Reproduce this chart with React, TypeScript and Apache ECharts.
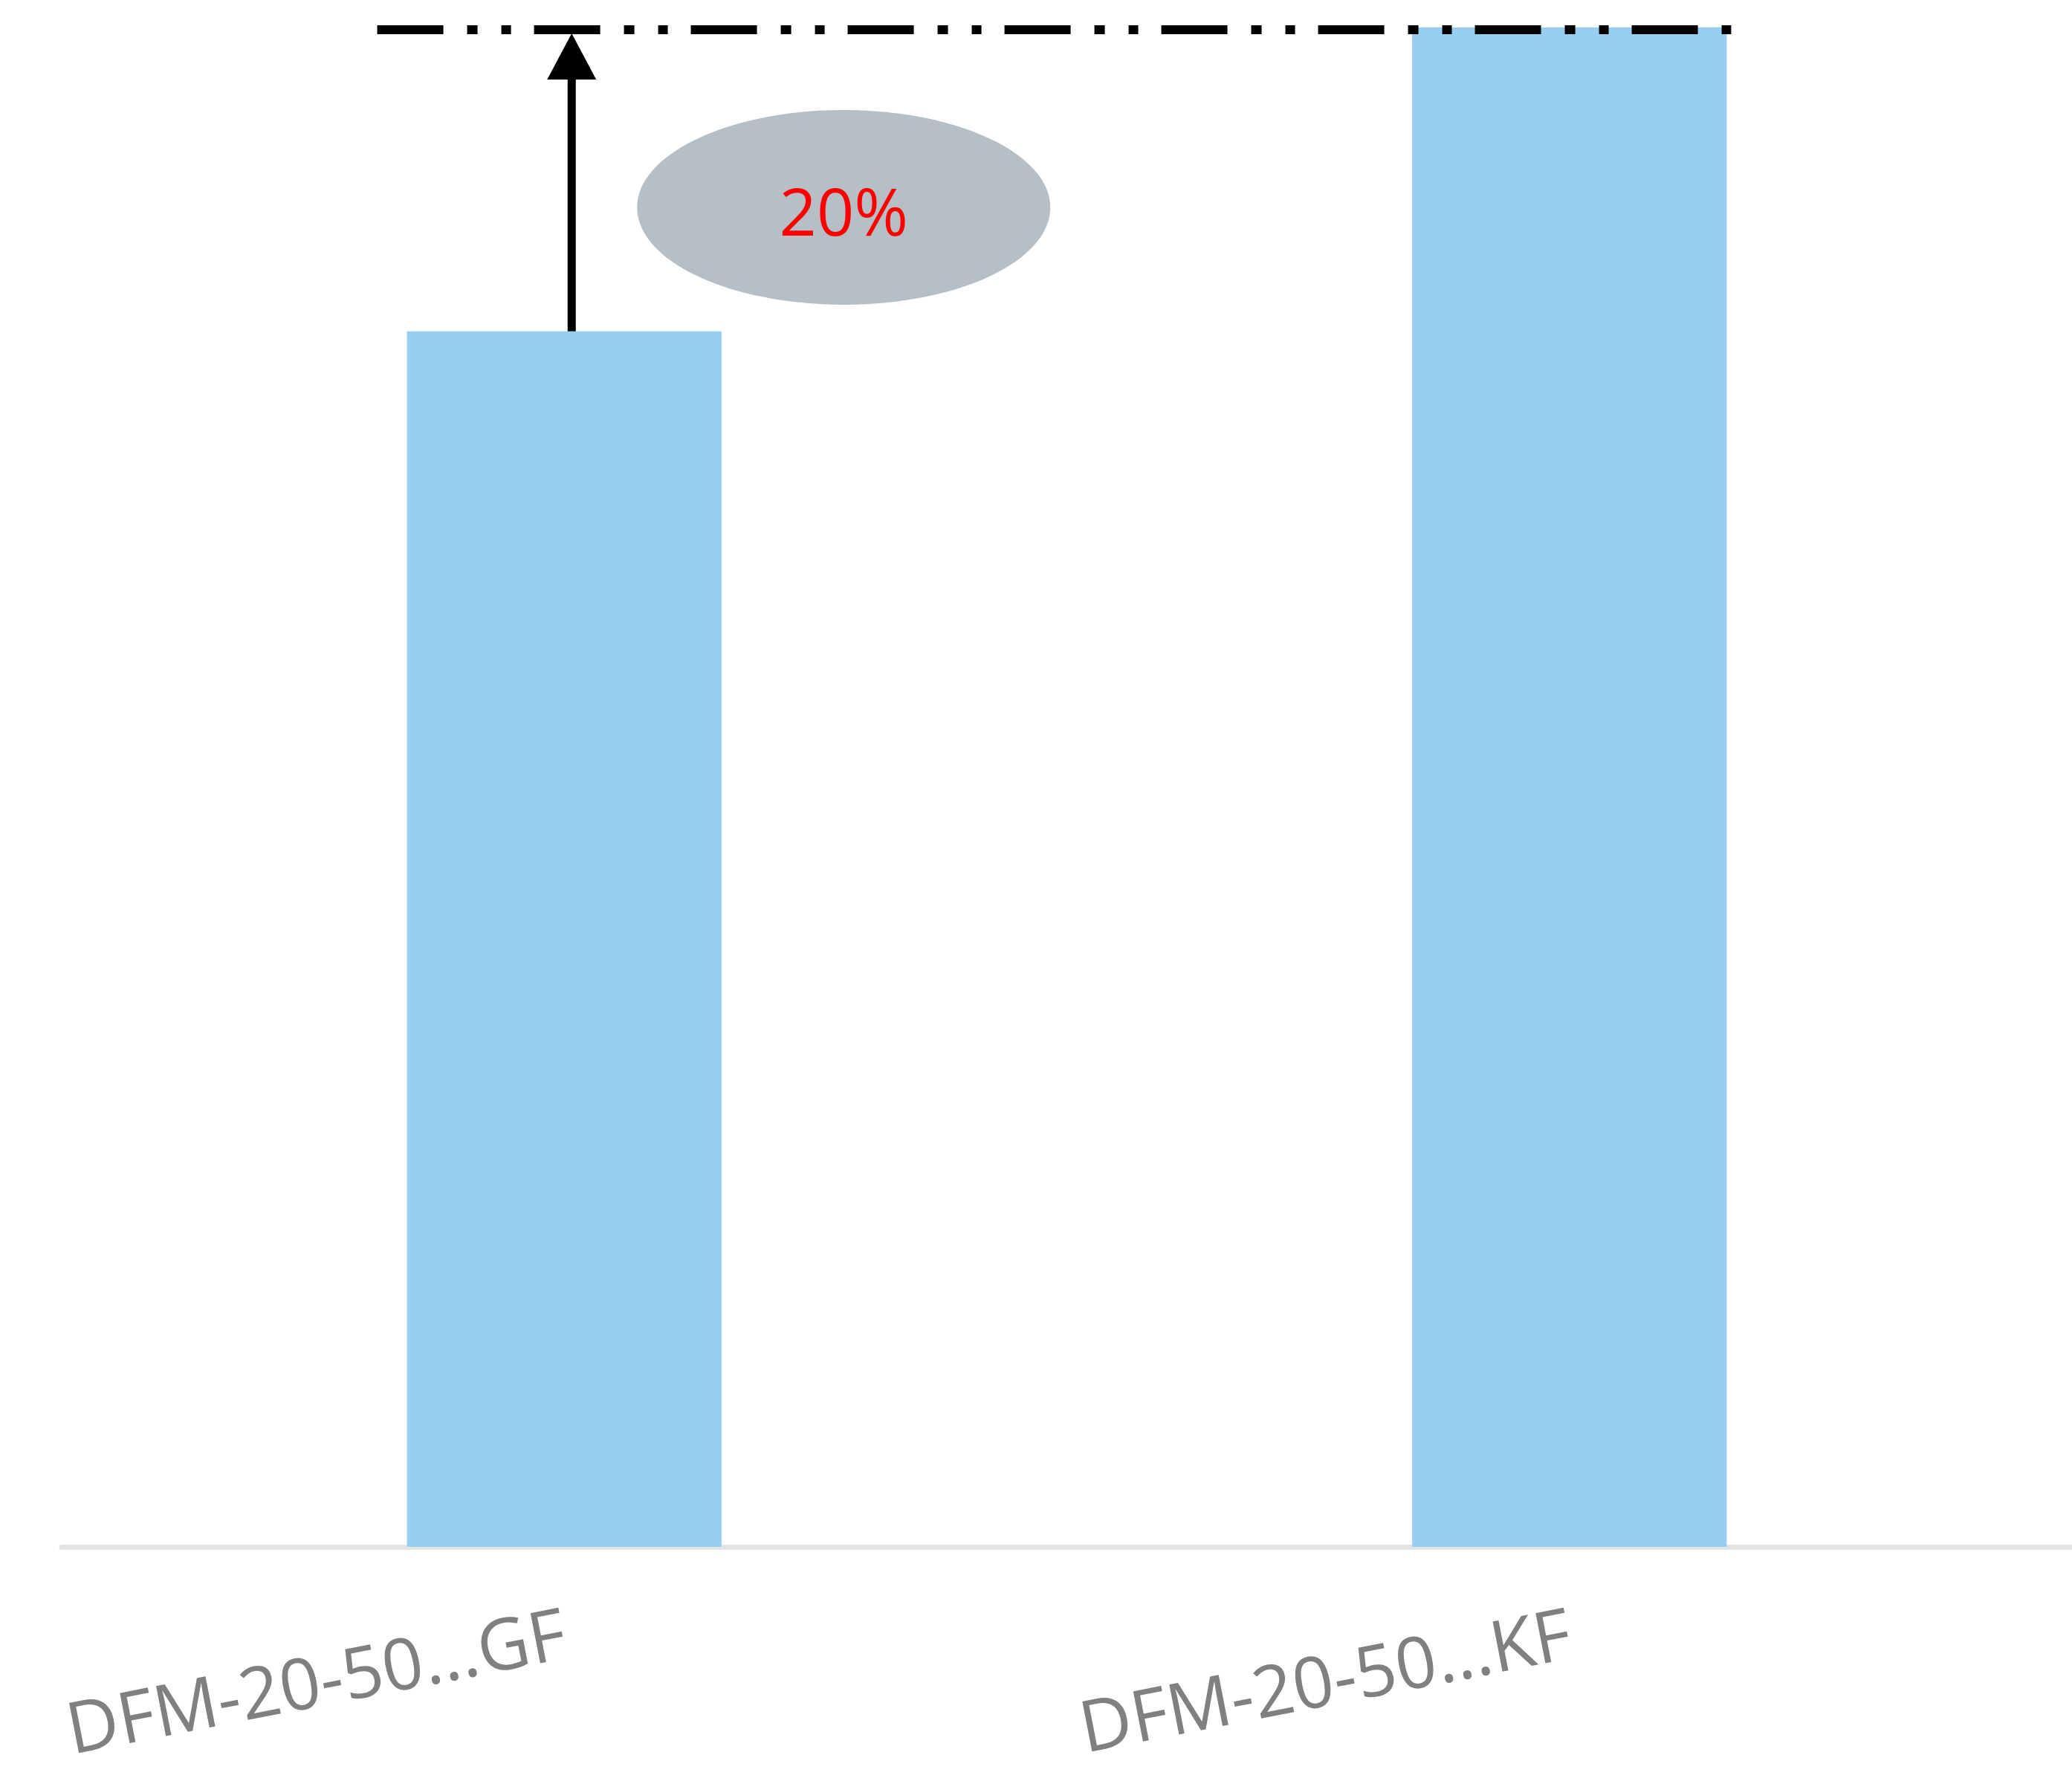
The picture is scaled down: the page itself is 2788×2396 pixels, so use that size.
import React, { useEffect, useRef } from "react";
import * as echarts from "echarts";

const categories = ["DFM-20-50...GF", "DFM-20-50...KF"];
const values = [80, 100];
const annotationText = "20%";

export default function App() {
  const ref = useRef<HTMLDivElement>(null);
  useEffect(() => {
    document.body.style.margin = "0";
    const chart = echarts.init(ref.current!, null, { renderer: "svg" });
    const barWidthRatio = 0.313;
    chart.setOption({
      animation: false,
      backgroundColor: "#ffffff",
      grid: { left: 83, top: 37, width: 2760, height: 2044 },
      xAxis: {
        type: "category",
        data: categories,
        offset: 4,
        axisLine: { show: true, lineStyle: { color: "#e4e4e4", width: 7 } },
        axisTick: { show: false },
        axisLabel: {
          interval: 0,
          rotate: 11,
          margin: 108,
          fontSize: 96,
          lineHeight: 80,
          color: "#808080",
          fontFamily: "Open Sans",
        },
      },
      yAxis: { type: "value", min: 0, max: 100, show: false, splitLine: { show: false } },
      series: [
        {
          type: "bar",
          data: values,
          barWidth: barWidthRatio * 100 + "%",
          itemStyle: { color: "#97cef2" },
        },
      ],
    });

    const p1 = chart.convertToPixel({ seriesIndex: 0 }, [0, values[0]]) as number[];
    const p2 = chart.convertToPixel({ seriesIndex: 0 }, [1, values[1]]) as number[];
    const bandW = p2[0] - p1[0];
    const half = (bandW * barWidthRatio) / 2;
    const ax = p1[0] + 10;
    const lineY = p2[1] + 3;
    const cx = p1[0] + 376;
    const cy = p2[1] + 242;

    chart.setOption({
      graphic: [
        {
          type: "line",
          z: 100,
          shape: { x1: p1[0] - half - 40, y1: lineY, x2: p2[0] + half + 6, y2: lineY },
          style: { stroke: "#000000", lineWidth: 12, lineDash: [89, 32, 14, 32, 13, 31], lineCap: "butt" },
        },
        {
          type: "line",
          z: 100,
          shape: { x1: ax, y1: p1[1], x2: ax, y2: p2[1] + 68 },
          style: { stroke: "#000000", lineWidth: 11 },
        },
        {
          type: "polygon",
          z: 100,
          shape: { points: [[ax - 33, p2[1] + 70], [ax + 33, p2[1] + 70], [ax, p2[1] + 8]] },
          style: { fill: "#000000" },
        },
        {
          type: "ellipse",
          z: 90,
          shape: { cx, cy, rx: 278, ry: 131 },
          style: { fill: "#b6bfc6" },
        },
        {
          type: "text",
          z: 101,
          x: cx,
          y: cy + 4,
          style: {
            text: annotationText,
            fill: "#ff0000",
            fontSize: 88,
            fontFamily: "Open Sans",
            align: "center",
            verticalAlign: "middle",
            textAlign: "center",
            textVerticalAlign: "middle",
          },
        },
      ],
    });
    return () => chart.dispose();
  }, []);
  return <div ref={ref} style={{ width: 2788, height: 2396 }} />;
}
